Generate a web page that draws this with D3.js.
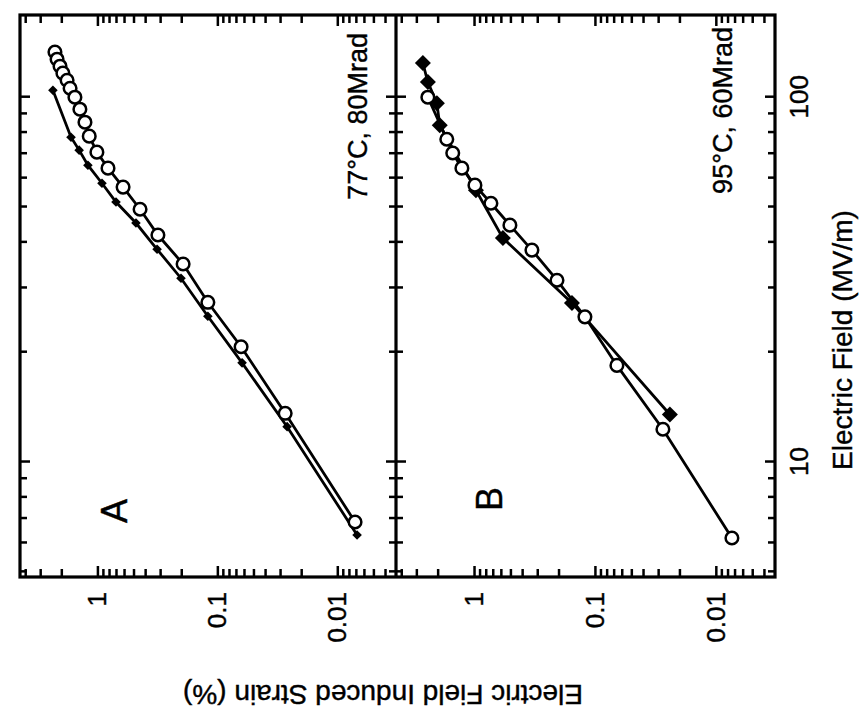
<!DOCTYPE html>
<html>
<head>
<meta charset="utf-8">
<script src="https://cdn.jsdelivr.net/npm/d3@7"></script>
<style>
	body { margin: 0; background: #fff; }
	svg { display: block; }
</style>
</head>
<body>
<svg id="chart" width="864" height="717"></svg>
<script>
// Panel A (77°C, 80Mrad), open circles
const fieldA_open = [133, 127.1, 121.6, 116.4, 111.3, 105.8, 100, 92.7, 85.4, 78.2, 70.7, 63.9, 56.7, 49.3, 41.9, 34.9, 27.4, 20.7, 13.6, 6.85]
const strainA_open = [2.26, 2.17, 2.05, 1.94, 1.79, 1.69, 1.54, 1.4, 1.27, 1.17, 1.01, 0.816, 0.611, 0.441, 0.313, 0.193, 0.12, 0.0634, 0.0272, 0.00711]

// Panel A, filled diamonds
const fieldA_fill = [104.5, 77.7, 71.6, 65.1, 58.1, 51.6, 45.2, 38.3, 31.9, 25.1, 18.7, 12.5, 6.31]
const strainA_fill = [2.35, 1.66, 1.42, 1.2, 0.916, 0.7, 0.477, 0.318, 0.201, 0.12, 0.0622, 0.0262, 0.00684]

// Panel B (95°C, 60Mrad), open circles
const fieldB_open = [100, 76.7, 70.3, 63.9, 57.4, 51.2, 44.6, 38.1, 31.5, 25.0, 18.4, 12.3, 6.19]
const strainB_open = [2.41, 1.68, 1.5, 1.26, 0.983, 0.725, 0.505, 0.332, 0.206, 0.121, 0.0658, 0.0274, 0.00736]

// Panel B, filled diamonds
const fieldB_fill = [124, 110, 96.3, 83.8, 55.6, 41.1, 27.3, 13.5]
const strainB_fill = [2.65, 2.41, 2.03, 1.92, 0.964, 0.577, 0.155, 0.024]

// Axes
const fieldDomain = [4.84, 168]
const strainDomain = [0.00324, 4.42]
const fieldTicks = [10, 100]
const fieldTickLabels = ['10', '100']
const strainTicks = [1, 0.1, 0.01]
const strainTickLabels = ['1', '0.1', '0.01']
const panelNames = ['A', 'B']
const panelNotes = ['77°C, 80Mrad', '95°C, 60Mrad']

const font = "'Liberation Sans', Arial, Helvetica, sans-serif"

//Minor ticks for a log axis: 2..9 of every decade inside the domain
function minorTicks(domain) {
	const out = []
	for (let e = -4; e <= 3; e++) {
		for (let k = 2; k <= 9; k++) {
			const v = k * Math.pow(10, e)
			if (v > domain[0] && v < domain[1]) out.push(v)
		}
	}
	return out
}

const svg = d3.select('#chart')

//The figure is drawn upright and then turned a quarter turn, as in the scan
const plot = svg.append('g').attr('transform', 'translate(0,717) rotate(-90)')

const x = d3.scaleLog().domain(fieldDomain).range([140, 702])

const panels = [
	{ y0: 20, y1: 396, open: [fieldA_open, strainA_open], fill: [fieldA_fill, strainA_fill], dia: 4.8, note: [684, 367] },
	{ y0: 396, y1: 775, open: [fieldB_open, strainB_open], fill: [fieldB_fill, strainB_fill], dia: 8, note: [690, 732] },
]

//Adds one set of ticks (and optional labels) to the plot
function addTicks(axis, transform, values, size, labels) {
	const g = plot
		.append('g')
		.attr('transform', transform)
		.call(
			axis
				.tickValues(values)
				.tickSize(size)
				.tickPadding(15)
				.tickFormat((d, i) => (labels ? labels[i] : ''))
		)
	g.select('.domain').remove()
	g.selectAll('line').attr('stroke', '#000').attr('stroke-width', 2.5)
	g.selectAll('text')
		.attr('fill', '#000')
		.attr('stroke', '#000')
		.attr('stroke-width', 0.4)
		.style('font-family', font)
		.style('font-size', '26px')
	return g
}

panels.forEach((p, pi) => {
	const y = d3.scaleLog().domain(strainDomain).range([p.y1, p.y0])
	const yMinor = minorTicks(strainDomain)
	const xMinor = minorTicks(fieldDomain)

	//strain ticks, both sides pointing inward
	addTicks(d3.axisLeft(y), 'translate(140,0)', strainTicks, -11, strainTickLabels)
	addTicks(d3.axisLeft(y), 'translate(140,0)', yMinor, -8)
	addTicks(d3.axisRight(y), 'translate(702,0)', strainTicks, -11)
	addTicks(d3.axisRight(y), 'translate(702,0)', yMinor, -8)

	//field ticks on top and bottom of the panel
	addTicks(d3.axisTop(x), 'translate(0,' + p.y0 + ')', fieldTicks, -10)
	addTicks(d3.axisTop(x), 'translate(0,' + p.y0 + ')', xMinor, -7)
	addTicks(d3.axisBottom(x), 'translate(0,' + p.y1 + ')', fieldTicks, -10, pi == 1 ? fieldTickLabels : null)
	addTicks(d3.axisBottom(x), 'translate(0,' + p.y1 + ')', xMinor, -7)

	const line = d3
		.line()
		.x(d => x(d[0]))
		.y(d => y(d[1]))

	const openPts = p.open[0].map((f, i) => [f, p.open[1][i]])
	const fillPts = p.fill[0].map((f, i) => [f, p.fill[1][i]])

	plot.append('path').datum(fillPts).attr('d', line).attr('fill', 'none').attr('stroke', '#000').attr('stroke-width', 2.8)
	plot.append('path').datum(openPts).attr('d', line).attr('fill', 'none').attr('stroke', '#000').attr('stroke-width', 2.8)

	const s = p.dia
	plot
		.selectAll(null)
		.data(fillPts)
		.enter()
		.append('path')
		.attr('transform', d => 'translate(' + x(d[0]) + ',' + y(d[1]) + ')')
		.attr('d', 'M0,' + -s + 'L' + s + ',0L0,' + s + 'L' + -s + ',0Z')
		.attr('fill', '#000')

	plot
		.selectAll(null)
		.data(openPts)
		.enter()
		.append('circle')
		.attr('cx', d => x(d[0]))
		.attr('cy', d => y(d[1]))
		.attr('r', 6.3)
		.attr('fill', '#fff')
		.attr('stroke', '#000')
		.attr('stroke-width', 2.5)

	//panel letter and condition note
	plot
		.append('text')
		.attr('x', pi == 0 ? 206 : 218)
		.attr('y', pi == 0 ? 127 : 502)
		.attr('text-anchor', 'middle')
		.attr('stroke', '#000')
		.attr('stroke-width', 0.4)
		.style('font-family', font)
		.style('font-size', '36px')
		.text(panelNames[pi])

	plot
		.append('text')
		.attr('x', p.note[0])
		.attr('y', p.note[1])
		.attr('text-anchor', 'end')
		.attr('stroke', '#000')
		.attr('stroke-width', 0.4)
		.style('font-family', font)
		.style('font-size', '27px')
		.text(panelNotes[pi])
})

//frame and the line between the panels
plot
	.append('rect')
	.attr('x', 140)
	.attr('y', 20)
	.attr('width', 562)
	.attr('height', 755)
	.attr('fill', 'none')
	.attr('stroke', '#000')
	.attr('stroke-width', 3.2)

plot.append('line').attr('x1', 140).attr('x2', 702).attr('y1', 396).attr('y2', 396).attr('stroke', '#000').attr('stroke-width', 3.2)

//axis titles
plot
	.append('text')
	.attr('x', 377)
	.attr('y', 852)
	.attr('text-anchor', 'middle')
	.attr('stroke', '#000')
	.attr('stroke-width', 0.4)
	.style('font-family', font)
	.style('font-size', '28px')
	.text('Electric Field (MV/m)')

plot
	.append('text')
	.attr('transform', 'translate(32,383) rotate(-90)')
	.attr('text-anchor', 'middle')
	.attr('stroke', '#000')
	.attr('stroke-width', 0.4)
	.style('font-family', font)
	.style('font-size', '28px')
	.text('Electric Field Induced Strain (%)')
</script>
</body>
</html>
